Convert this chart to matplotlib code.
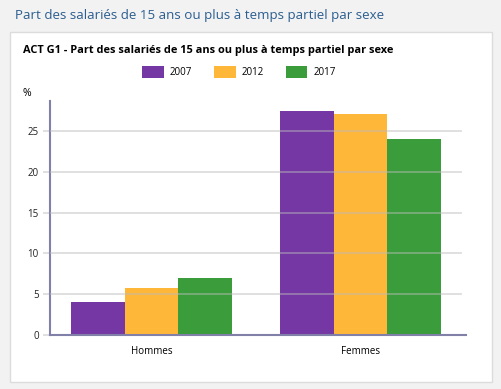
import numpy as np
import matplotlib.pyplot as plt
from matplotlib.patches import Rectangle

plt.rcParams['font.family'] = ['Open Sans', 'DejaVu Sans']

# données
categories = ['Hommes', 'Femmes']
annees = ['2007', '2012', '2017']
valeurs = {
    '2007': [4.1, 27.5],
    '2012': [5.8, 27.1],
    '2017': [7.0, 24.0],
}
couleurs = ['#7030a0', '#ffb533', '#339933']
yticks = [0, 5, 10, 15, 20, 25]

fig = plt.figure(figsize=(5.02, 3.89), dpi=100)
fig.patch.set_facecolor('#f2f2f2')

# panneau blanc
fig.patches.append(Rectangle((10 / 502, 1 - 382 / 389), 482 / 502, 350 / 389,
                             transform=fig.transFigure, facecolor='white',
                             edgecolor='#dcdcdc', linewidth=1, zorder=-1))

fig.text(15 / 502, 1 - 16 / 389, 'Part des salariés de 15 ans ou plus à temps partiel par sexe',
         color='#2c5d8f', fontsize=9.6, va='center', ha='left')
fig.text(23 / 502, 1 - 50 / 389, 'ACT G1 - Part des salariés de 15 ans ou plus à temps partiel par sexe',
         color='black', fontsize=7.9, fontweight='bold', va='center', ha='left')
fig.text(23 / 502, 1 - 93 / 389, '%', fontsize=7.5, va='center', ha='left')

ax = fig.add_axes([50 / 502, 1 - 335 / 389, 416 / 502, 234 / 389])
ax.set_zorder(2)
ax.set_facecolor('none')

x = np.arange(len(categories))
largeur = 0.258
for i, an in enumerate(annees):
    ax.bar(x + (i - 1) * largeur, valeurs[an], width=largeur, color=couleurs[i],
           alpha=0.97, zorder=2, label=an)

for t in yticks[1:]:
    ax.axhline(t, xmin=0, xmax=0.988, color='#bbbbbb', alpha=0.5, linewidth=1.3, zorder=3)

ax.set_xlim(-0.486, 1.505)
ax.set_ylim(0, 28.7)
ax.set_yticks(yticks)
ax.set_xticks(x)
ax.set_xticklabels(categories)
ax.tick_params(axis='y', length=5, color='#dddddd', width=1.3, labelsize=7,
               labelcolor='#222222', pad=3)
ax.tick_params(axis='x', length=0, labelsize=7, pad=8)

for s in ['top', 'right']:
    ax.spines[s].set_visible(False)
ax.spines['left'].set_color('#8080a8')
ax.spines['bottom'].set_color('#8080a8')
ax.spines['left'].set_linewidth(1.5)
ax.spines['bottom'].set_linewidth(1.5)

leg = fig.legend(loc='center', bbox_to_anchor=(239 / 502, 1 - 72 / 389), ncol=3,
                 frameon=False, fontsize=7, handlelength=2.2, handleheight=1.5,
                 columnspacing=2.3, handletextpad=0.6)

fig.savefig('out.png', dpi=100, facecolor=fig.get_facecolor())
